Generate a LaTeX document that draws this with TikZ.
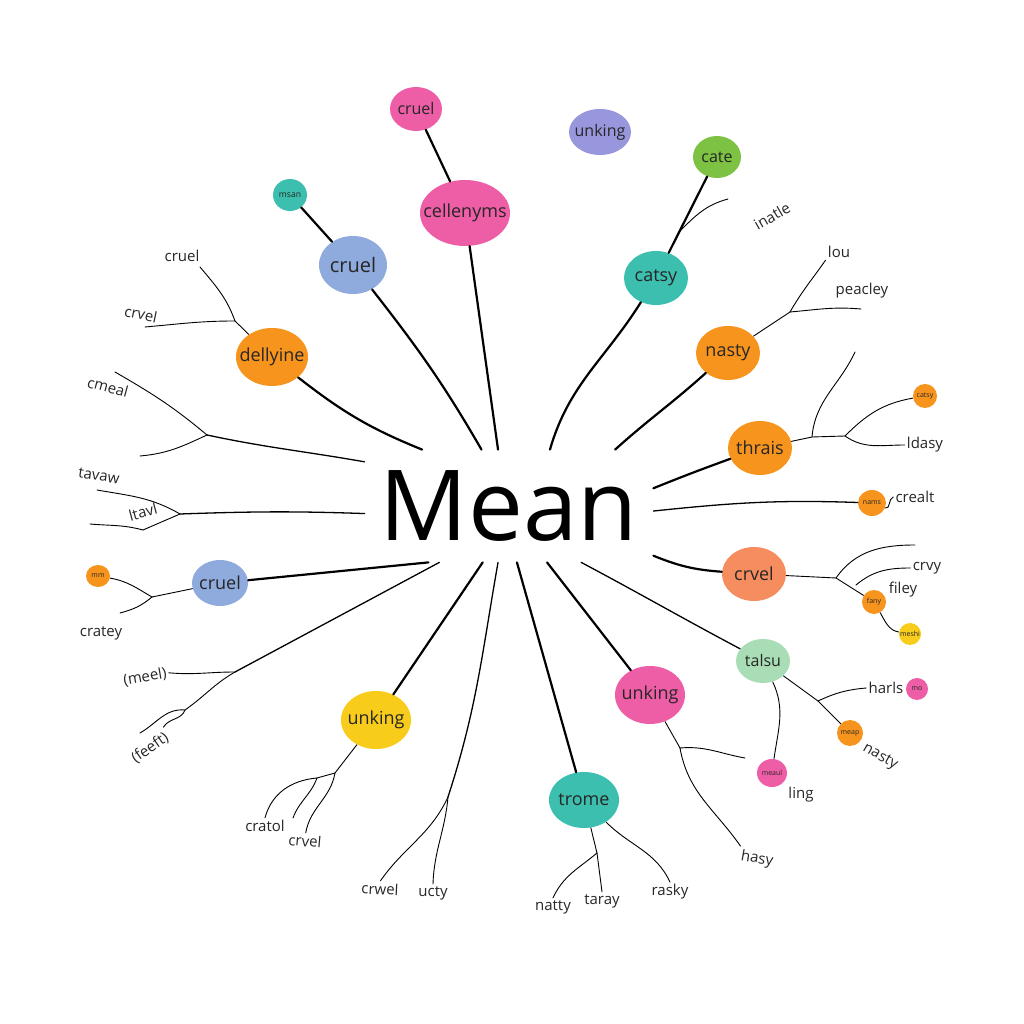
\documentclass[tikz,border=0pt]{standalone}
\usepackage{fontspec}
\setsansfont{Open Sans}
\usetikzlibrary{shapes.geometric}
\definecolor{bubpink}{HTML}{EE5EA6}
\definecolor{bubblue}{HTML}{8FAADC}
\definecolor{bublav}{HTML}{9896DC}
\definecolor{bubgreen}{HTML}{7DC242}
\definecolor{bubteal}{HTML}{3DBFAF}
\definecolor{buborange}{HTML}{F7941E}
\definecolor{bubsalmon}{HTML}{F68D5E}
\definecolor{bubmint}{HTML}{A9DDB5}
\definecolor{bubyellow}{HTML}{F8CC1B}
\newcommand{\mapfs}[1]{\sffamily\fontsize{#1}{#1}\selectfont}
\newcommand{\bubtxt}[1]{\makebox[0pt]{#1}}
\tikzset{
  spoke/.style={line width=1.1pt, line cap=round},
  branch/.style={line width=0.65pt, line cap=round},
  twig/.style={line width=0.45pt, line cap=round},
  bubble/.style={ellipse, inner sep=0pt, text=black!85, font=\mapfs{9}},
  bigbub/.style={bubble, minimum width=32pt, minimum height=27pt},
  tinybub/.style={bubble, minimum width=12pt, minimum height=12pt, font=\mapfs{3.5}},
  leaf/.style={inner sep=1pt, text=black!85, font=\mapfs{7.5}}
}

\begin{document}
\begin{tikzpicture}[x=0.5pt, y=0.5pt]
  \useasboundingbox (0,0) rectangle (1024,1024);
  \node[font=\mapfs{49}, inner sep=0pt, minimum width=144pt, minimum height=56pt] (mean) at (509,518) {Mean};

  % bubbles
  \node[bubble, fill=bubpink, minimum width=26pt, minimum height=22pt, font=\mapfs{8}] (cruelpink) at (416,915) {\bubtxt{cruel}};
  \node[bubble, fill=bubpink, minimum width=45pt, minimum height=33pt] (cellenyms) at (465,811) {\bubtxt{cellenyms}};
  \node[bubble, fill=bubteal, minimum width=17pt, minimum height=16pt, font=\mapfs{4.3}] (msan) at (290,829) {\bubtxt{msan}};
  \node[bubble, fill=bubblue, minimum width=34pt, minimum height=29pt, font=\mapfs{10}] (cruelblue) at (353,759) {\bubtxt{cruel}};
  \node[bubble, fill=bublav, minimum width=31pt, minimum height=23pt, font=\mapfs{8}] (unkpurple) at (600,892) {\bubtxt{unking}};
  \node[bubble, fill=bubgreen, minimum width=24pt, minimum height=21pt, font=\mapfs{8}] (cate) at (717,867) {\bubtxt{cate}};
  \node[bigbub, fill=bubteal] (catsy) at (656,746) {\bubtxt{catsy}};
  \node[bigbub, fill=buborange, minimum width=36pt, minimum height=29pt] (dellyine) at (272,667) {\bubtxt{dellyine}};
  \node[bigbub, fill=buborange] (nasty) at (728,671) {\bubtxt{nasty}};
  \node[bigbub, fill=buborange] (thrais) at (760,576) {\bubtxt{thrais}};
  \node[tinybub, fill=buborange] (catsytiny) at (925,628) {\bubtxt{catsy}};
  \node[tinybub, fill=buborange, minimum width=14pt, minimum height=13pt] (nams) at (872,521) {\bubtxt{nams}};
  \node[bigbub, fill=bubsalmon] (crvel) at (754,450) {\bubtxt{crvel}};
  \node[tinybub, fill=buborange] (fany) at (874,422) {\bubtxt{fany}};
  \node[tinybub, fill=bubyellow, minimum width=11pt, minimum height=11pt] (meshi) at (910,390) {\bubtxt{meshi}};
  \node[bubble, fill=bubmint, minimum width=27pt, minimum height=22pt, font=\mapfs{8}] (talsu) at (763,363) {\bubtxt{talsu}};
  \node[tinybub, fill=bubpink, minimum width=11pt, minimum height=11pt] (mo) at (917,335) {\bubtxt{mo}};
  \node[tinybub, fill=buborange, minimum width=13pt, minimum height=13pt] (meap) at (850,291) {\bubtxt{meap}};
  \node[bigbub, fill=bubpink, minimum width=35pt, minimum height=29pt] (unkpink) at (650,329) {\bubtxt{unking}};
  \node[tinybub, fill=bubpink, minimum width=15pt, minimum height=14pt] (meaul) at (772,251) {\bubtxt{meaul}};
  \node[bigbub, fill=bubteal, minimum width=35pt, minimum height=28pt] (trome) at (584,224) {\bubtxt{trome}};
  \node[bigbub, fill=bubyellow, minimum width=35pt, minimum height=29pt] (unkyellow) at (376,304) {\bubtxt{unking}};
  \node[bigbub, fill=bubblue, minimum width=28pt, minimum height=23pt] (cruelleft) at (220,441) {\bubtxt{cruel}};
  \node[tinybub, fill=buborange, minimum height=11pt] (mm) at (98,448) {\bubtxt{mm}};

  % leaf words
  \node[leaf, rotate=30] (inatle) at (772,808) {inatle};
  \node[leaf] (lou) at (839,772) {lou};
  \node[leaf] (peacley) at (862,733) {peacley};
  \node[leaf] (ldasy) at (925,579) {ldasy};
  \node[leaf] (crealt) at (915,527) {crealt};
  \node[leaf] (crvy) at (927,456) {crvy};
  \node[leaf] (filey) at (903,434) {filey};
  \node[leaf] (harls) at (886,336) {harls};
  \node[leaf, rotate=-30] (nastyleaf) at (880,267) {nasty};
  \node[leaf] (ling) at (801,229) {ling};
  \node[leaf, rotate=-10] (hasy) at (757,165) {hasy};
  \node[leaf] (rasky) at (670,132) {rasky};
  \node[leaf] (taray) at (602,123) {taray};
  \node[leaf] (natty) at (553,117) {natty};
  \node[leaf] (ucty) at (433,131) {ucty};
  \node[leaf, rotate=-3] (crwel) at (380,135) {crwel};
  \node[leaf] (cratol) at (265,198) {cratol};
  \node[leaf, rotate=-5] (crveltwo) at (305,183) {crvel};
  \node[leaf, rotate=35] (feeft) at (150,276) {(feeft)};
  \node[leaf, rotate=10] (meel) at (145,347) {(meel)};
  \node[leaf] (cratey) at (101,391) {cratey};
  \node[leaf, rotate=-8] (tavaw) at (99,548) {tavaw};
  \node[leaf, rotate=15] (ltavl) at (143,512) {ltavl};
  \node[leaf, rotate=-15] (cmeal) at (108,637) {cmeal};
  \node[leaf, rotate=-12] (crvelthree) at (141,710) {crvel};
  \node[leaf] (cruelthree) at (182,768) {cruel};

  % branch points and loose ends
  \coordinate (tw0) at (679,792);  \coordinate (tw1) at (728,825);
  \coordinate (n1) at (790,712);   \coordinate (pk1) at (861,715);
  \coordinate (t1) at (812,587);   \coordinate (t2) at (845,588);
  \coordinate (tu) at (855,672);
  \coordinate (c1) at (836,446);   \coordinate (c2) at (856,439);
  \coordinate (cup) at (915,479);
  \coordinate (s1) at (818,323);
  \coordinate (u1) at (680,276);   \coordinate (uend) at (745,266);
  \coordinate (tr1) at (597,171);
  \coordinate (uc1) at (448,227);
  \coordinate (y1) at (335,251);   \coordinate (y2) at (317,246);
  \coordinate (y3) at (293,206);
  \coordinate (f1) at (235,352);   \coordinate (f2) at (185,314);
  \coordinate (fe1) at (140,291);
  \coordinate (cl1) at (152,427);  \coordinate (cl2) at (120,411);
  \coordinate (ta1) at (180,510);  \coordinate (ta2) at (97,534);
  \coordinate (ta3) at (143,494);  \coordinate (ta4) at (90,500);
  \coordinate (cm1) at (207,589);  \coordinate (cm2) at (115,652);
  \coordinate (cm3) at (140,568);
  \coordinate (d1) at (235,703);   \coordinate (d2) at (200,757);
  \coordinate (d3) at (145,697);

  % spokes from the centre
  \draw[spoke] (mean.101) -- (cellenyms);
  \draw[spoke] (cellenyms) -- (cruelpink);
  \draw[spoke] (mean.116) to[out=120,in=-52] (cruelblue);
  \draw[spoke] (cruelblue) -- (msan);
  \draw[spoke] (mean.147) to[out=158,in=-38] (dellyine);
  \draw[spoke] (mean.54) to[out=74,in=-122] (catsy);
  \draw[spoke] (catsy) -- (cate);
  \draw[spoke] (mean.28) to[out=42,in=-138] (nasty);
  \draw[spoke] (mean.7) to[out=22,in=-160] (thrais);
  \draw[branch] (mean.-2) to[out=6,in=178] (nams);
  \draw[spoke] (mean.-19) to[out=-22,in=176] (crvel);
  \draw[branch] (mean.-38) to[out=-28,in=152] (talsu);
  \draw[spoke] (mean.-56) -- (unkpink);
  \draw[spoke] (mean.-82) -- (trome);
  \draw[branch] (mean.-101) to[out=-100,in=72] (uc1);
  \draw[spoke] (mean.-115) -- (unkyellow);
  \draw[branch] (mean.-141) -- (f1);
  \draw[spoke] (mean.-145) -- (cruelleft);
  \draw[branch] (mean.-177) to[out=178,in=2] (ta1);
  \draw[branch] (mean.163) to[out=170,in=-12] (cm1);

  % twigs
  \draw[twig] (tw0) to[out=45,in=195] (tw1);
  \draw[twig] (nasty) -- (n1);
  \draw[twig] (n1) to[out=60,in=-125] (lou.south west);
  \draw[twig] (n1) to[out=5,in=175] (pk1);
  \draw[twig] (thrais) -- (t1) -- (t2);
  \draw[twig] (t1) to[out=85,in=-115] (tu);
  \draw[twig] (t2) to[out=45,in=190] (catsytiny);
  \draw[twig] (t2) to[out=-35,in=180] (ldasy.west);
  \draw[twig] (nams) to[out=-20,in=200] (crealt.west);
  \draw[twig] (crvel) -- (c1) -- (fany);
  \draw[twig] (c1) to[out=55,in=180] (cup);
  \draw[twig] (c2) to[out=40,in=180] (crvy.west);
  \draw[twig] (fany) to[out=-60,in=170] (meshi);
  \draw[twig] (talsu) -- (s1) -- (meap);
  \draw[twig] (s1) to[out=25,in=185] (harls.west);
  \draw[twig] (talsu) to[out=-65,in=82] (meaul);
  \draw[twig] (unkpink) -- (u1);
  \draw[twig] (u1) to[out=5,in=170] (uend);
  \draw[twig] (u1) to[out=-80,in=125] (hasy.north west);
  \draw[twig] (trome) -- (tr1) -- (taray.north);
  \draw[twig] (tr1) to[out=-140,in=65] (natty.north);
  \draw[twig] (trome) to[out=-45,in=115] (rasky.north);
  \draw[twig] (uc1) to[out=-115,in=55] (crwel.north);
  \draw[twig] (uc1) to[out=-95,in=88] (ucty.north);
  \draw[twig] (unkyellow) -- (y1) -- (y2);
  \draw[twig] (y2) to[out=185,in=75] (cratol.north);
  \draw[twig] (y2) to[out=-110,in=70] (y3);
  \draw[twig] (y1) to[out=-100,in=80] (crveltwo.north);
  \draw[twig] (f1) to[out=180,in=-5] (meel.east);
  \draw[twig] (f1) to[out=-150,in=35] (f2);
  \draw[twig] (f2) to[out=175,in=30] (fe1);
  \draw[twig] (f2) to[out=-110,in=60] (feeft.north east);
  \draw[twig] (cruelleft) -- (cl1);
  \draw[twig] (cl1) to[out=150,in=-10] (mm);
  \draw[twig] (cl1) to[out=-140,in=15] (cl2);
  \draw[twig] (ta1) to[out=150,in=-10] (ta2);
  \draw[twig] (ta1) -- (ta3);
  \draw[twig] (ta3) to[out=165,in=-5] (ta4);
  \draw[twig] (cm1) to[out=140,in=-30] (cm2);
  \draw[twig] (cm1) to[out=-155,in=5] (cm3);
  \draw[twig] (dellyine) -- (d1);
  \draw[twig] (d1) to[out=110,in=-50] (d2);
  \draw[twig] (d1) to[out=180,in=5] (d3);
\end{tikzpicture}
\end{document}
